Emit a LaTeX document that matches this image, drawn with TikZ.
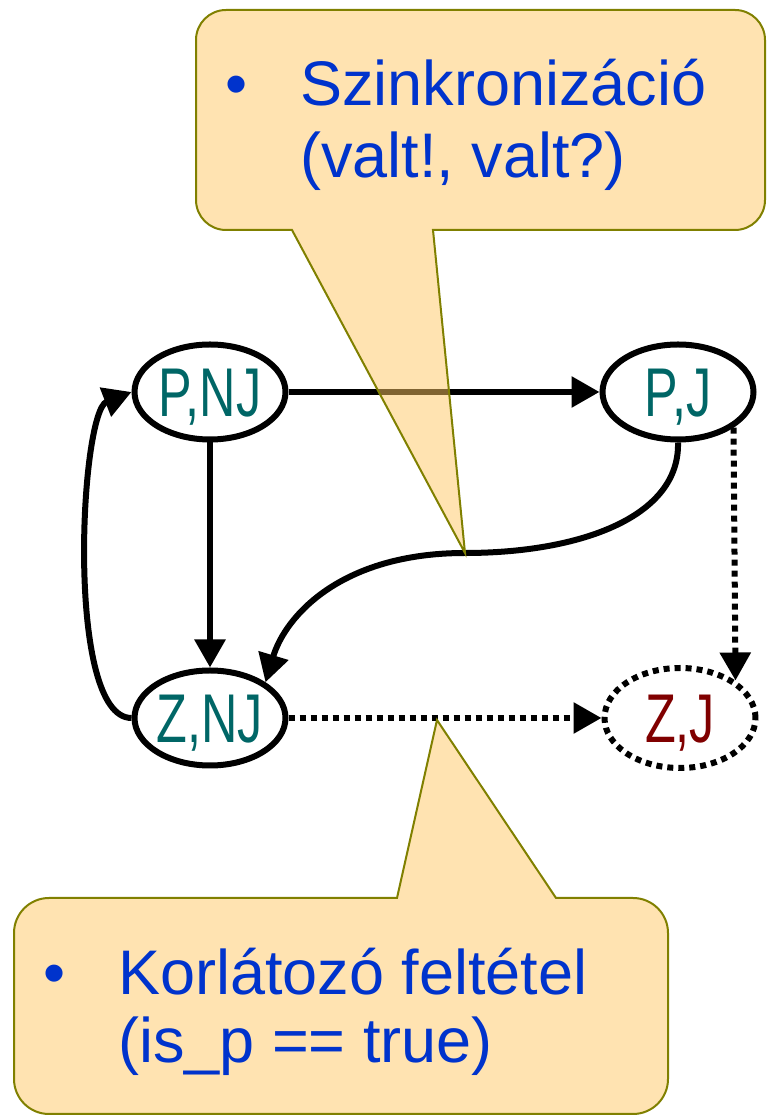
\documentclass[tikz,border=0pt]{standalone}
\usepackage{fontspec}
\setmainfont{Liberation Sans}
\usepackage{graphicx}
\usetikzlibrary{arrows.meta,shapes.geometric}
\definecolor{stc}{RGB}{0,102,102}
\definecolor{zjc}{RGB}{128,0,0}
\definecolor{bluec}{RGB}{0,51,204}
\definecolor{olivec}{RGB}{128,128,0}
\definecolor{callfill}{RGB}{255,200,100}
\begin{document}
\begin{tikzpicture}[x=1pt,y=1pt,
  state/.style={ellipse, draw, line width=6pt, minimum width=151pt, minimum height=95pt,
    inner sep=0pt, text height=49pt, text depth=0pt, font=\fontsize{69}{80}\selectfont, text=stc},
  edge/.style={line width=6pt, -{Triangle[length=28pt,width=30pt]}},
  dotline/.style={dash pattern=on 6pt off 5pt},
  callout/.style={draw=olivec, line width=2pt, fill=callfill, fill opacity=0.5},
  calltext/.style={text=bluec, font=\fontsize{63}{72}\selectfont, anchor=base west, inner sep=0pt},
  bullet/.style={text=bluec, font=\fontsize{63}{72}\selectfont, anchor=base, inner sep=0pt}]
\useasboundingbox (0,0) rectangle (767,1117);
% states
\node[state] (PNJ) at (210,725) {\scalebox{0.73}[1]{P,NJ}};
\node[state] (PJ) at (678,725) {\scalebox{0.73}[1]{P,J}};
\node[state] (ZNJ) at (210,399) {\scalebox{0.73}[1]{Z,NJ}};
\node[state, dotline, text=zjc, minimum height=100pt] (ZJ) at (680,399) {\scalebox{0.73}[1]{Z,J}};
\coordinate (mid) at (465,564);
% edges
\draw[edge] (PNJ.east) -- (PJ.west);
\draw[edge] (PNJ.south) -- (ZNJ.north);
\draw[edge] (PJ.south) .. controls (680,600) and (580,564) .. (mid)
   .. controls (340,564) and (285,500) .. (ZNJ.north east);
\draw[edge] (ZNJ.west) .. controls (65,399) and (80,705) .. (PNJ.west);
\draw[edge, dotline] (PJ.south east) -- (ZJ.north east);
\draw[edge, dotline] (ZNJ.east) -- (ZJ.west);
% top callout
\path[callout] (226,1107) -- (735,1107) arc[start angle=90,end angle=0,radius=30]
  -- (765,917) arc[start angle=0,end angle=-90,radius=30]
  -- (433,887) -- (mid) -- (292,887) -- (226,887)
  arc[start angle=270,end angle=180,radius=30] -- (196,1077)
  arc[start angle=180,end angle=90,radius=30] -- cycle;
\node[bullet] (b1) at (237,1011) {•};
\node[calltext] (t1) at (300,1011) {Szinkronizáció};
\node[calltext] (t2) at (300,939) {(valt!, valt?)};
% bottom callout
\coordinate (tip) at (437,397);
\path[callout] (49,219) -- (397,219) -- (tip) -- (556,219) -- (633,219)
  arc[start angle=90,end angle=0,radius=35] -- (668,38)
  arc[start angle=0,end angle=-90,radius=35] -- (49,3)
  arc[start angle=270,end angle=180,radius=35] -- (14,184)
  arc[start angle=180,end angle=90,radius=35] -- cycle;
\node[bullet] (b2) at (55,122) {•};
\node[calltext] (t3) at (118,122) {Korlátozó feltétel};
\node[calltext] (t4) at (118,54) {(is\_p == true)};
\end{tikzpicture}
\end{document}
